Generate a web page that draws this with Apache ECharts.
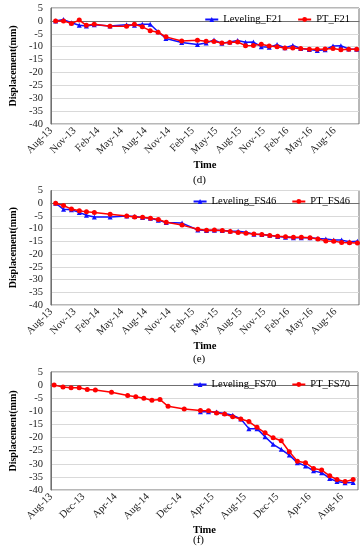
<!DOCTYPE html>
<html><head><meta charset="utf-8">
<script src="https://cdn.jsdelivr.net/npm/echarts@6/dist/echarts.min.js"></script>
<style>html,body{margin:0;padding:0;background:#fff}#c{width:363px;height:550px}</style>
</head><body><div id="c"></div>
<script>
// x positions: months since 1 Aug 2013
var monthsDE = [0.6,1.6,2.6,3.6,4.5,5.5,7.5,9.6,10.6,11.6,12.6,13.6,14.6,16.6,18.6,19.7,20.7,21.7,22.7,23.7,24.7,25.7,26.7,27.7,28.7,29.7,30.7,31.7,32.8,33.8,34.8,35.8,36.8,37.8,38.8];
var levelingF21 = [0,0.5,-0.7,-1.7,-2,-1.5,-2,-1.5,-1.7,-1.3,-1.3,-4.2,-6.8,-8.4,-9.2,-8.6,-7.4,-8.7,-8.2,-7.6,-8.3,-8.2,-10,-10.2,-9.2,-10.4,-9.5,-10.7,-11.1,-11.5,-11.2,-9.7,-9.6,-10.9,-11];
var ptF21 = [0,0,-1,0.3,-1.7,-1.3,-2.1,-2.1,-1.3,-2.3,-3.8,-4.4,-6.2,-7.8,-7.5,-7.9,-8,-8.6,-8.4,-8.2,-9.6,-9.5,-9.1,-9.7,-10,-10.5,-10.5,-10.7,-11,-11,-10.9,-10.7,-11.2,-11,-11];
var levelingFS46 = [0,-2.4,-2.6,-3.6,-4.7,-5.4,-5.4,-5,-5.2,-5.6,-5.9,-6.7,-7.6,-7.8,-10.5,-10.7,-10.6,-10.7,-10.9,-11,-11.4,-12.2,-12.3,-12.6,-13.1,-13.4,-13.6,-13.6,-13.6,-13.9,-14.1,-14.5,-14.5,-15.1,-14.9];
var ptFS46 = [0,-0.9,-2.3,-3,-3.4,-3.6,-4.3,-5,-5.4,-5.5,-5.9,-6.4,-7.5,-8.6,-10.2,-10.6,-10.5,-10.7,-11.1,-11.5,-11.8,-12.1,-12.3,-12.7,-13,-13.2,-13.4,-13.4,-13.6,-14.1,-14.8,-14.9,-15.4,-15.5,-15.6];
var monthsF = [0.4,1.5,2.5,3.5,4.5,5.5,7.5,9.5,10.5,11.5,12.5,13.5,14.5,16.5,18.5,19.5,20.5,21.5,22.5,23.5,24.5,25.5,26.5,27.5,28.5,29.5,30.5,31.5,32.5,33.5,34.5,35.4,36.4,37.4];
var levelingFS70 = [null,null,null,null,null,null,null,null,null,null,null,null,null,null,-10.2,-10.2,-10.3,-10.8,-11.5,-12.9,-16.6,-16.6,-19.7,-22.6,-24.5,-26.7,-29.6,-30.8,-32.7,-33.4,-35.6,-36.8,-37.2,-37.1];
var ptFS70 = [0,-0.7,-1,-1,-1.7,-1.9,-2.7,-4,-4.4,-5,-5.8,-5.5,-8.1,-9.1,-9.7,-9.8,-10.6,-11,-12.1,-12.9,-13.9,-16.1,-18.2,-20.1,-21.2,-25.4,-29,-29.6,-31.8,-32.4,-34.6,-36,-36.8,-36];
var ticksDE = ['Aug-13','Nov-13','Feb-14','May-14','Aug-14','Nov-14','Feb-15','May-15','Aug-15','Nov-15','Feb-16','May-16','Aug-16'];
var ticksF = ['Aug-13','Dec-13','Apr-14','Aug-14','Dec-14','Apr-15','Aug-15','Dec-15','Apr-16','Aug-16'];

var FONT = 'Liberation Serif';
var BLUE = '#1010ff', RED = '#ff0000';
function pairs(xs, ys){ return xs.map(function(x,i){ return ys[i]==null ? null : [x, ys[i]]; }).filter(function(p){return p;}); }

var panels = [
  {grid:{left:36,top:8,width:323,height:116}, xmax:39.1, interval:3, ticks:ticksDE, lev:pairs(monthsDE,levelingF21), pt:pairs(monthsDE,ptF21), names:['Leveling_F21','PT_F21'], legendTop:9, timeGap:35, cap:'(d)', capY:181},
  {grid:{left:37,top:190.5,width:322,height:114.5}, xmax:39, interval:3, ticks:ticksDE, lev:pairs(monthsDE,levelingFS46), pt:pairs(monthsDE,ptFS46), names:['Leveling_FS46','PT_FS46'], legendTop:191, timeGap:35, cap:'(e)', capY:360},
  {grid:{left:41,top:372,width:317,height:118}, xmax:38, interval:4, ticks:ticksF, lev:pairs(monthsF,levelingFS70), pt:pairs(monthsF,ptFS70), names:['Leveling_FS70','PT_FS70'], legendTop:374, timeGap:30, cap:'(f)', capY:541}
];

var option = {animation:false, textStyle:{fontFamily:FONT}, grid:[], xAxis:[], yAxis:[], series:[], legend:[], graphic:[]};
panels.forEach(function(p, k){
  option.grid.push(Object.assign({show:true, borderColor:'#707070', borderWidth:1, backgroundColor:'#fff'}, p.grid));
  option.xAxis.push({type:'value', gridIndex:k, min:0, max:p.xmax, interval:p.interval,
    name:'Time', nameLocation:'middle', nameGap:p.timeGap,
    nameTextStyle:{fontFamily:FONT, fontWeight:'bold', fontSize:10.5, color:'#000'},
    axisLine:{show:true, lineStyle:{color:'#707070'}}, axisTick:{show:false}, splitLine:{show:false},
    axisLabel:{rotate:45, fontFamily:FONT, fontSize:10.5, color:'#222', margin:5, showMaxLabel:false,
      formatter:(function(t, iv){ return function(v){ var i = Math.round(v/iv); return (Math.abs(v - i*iv) < 1e-6 && t[i]) ? t[i] : ''; }; })(p.ticks, p.interval)}
  });
  option.yAxis.push({type:'value', gridIndex:k, min:-40, max:5, interval:5,
    name:'Displacement(mm)', nameLocation:'middle', nameGap:24,
    nameTextStyle:{fontFamily:FONT, fontWeight:'bold', fontSize:10, color:'#000'},
    axisLine:{show:true, lineStyle:{color:'#707070'}}, axisTick:{show:false},
    splitLine:{show:true, lineStyle:{color:'#d9d9d9', width:1}},
    axisLabel:{fontFamily:FONT, fontSize:10.5, color:'#222', margin:8}
  });
  option.series.push({type:'line', name:p.names[0], xAxisIndex:k, yAxisIndex:k, data:p.lev,
    symbol:'triangle', symbolSize:5, lineStyle:{color:BLUE, width:1.5}, itemStyle:{color:BLUE}, z:2});
  option.series.push({type:'line', name:p.names[1], xAxisIndex:k, yAxisIndex:k, data:p.pt,
    symbol:'circle', symbolSize:5, lineStyle:{color:RED, width:1.5}, itemStyle:{color:RED}, z:3});
  option.legend.push({data:p.names, right:8, top:p.legendTop, itemWidth:13, itemHeight:6, itemGap:15,
    textStyle:{fontFamily:FONT, fontSize:10.5, color:'#000'}});
  option.graphic.push({type:'text', left:193, top:p.capY-6, style:{text:p.cap, font:'11px "Liberation Serif"', fill:'#000'}});
});
var chart = echarts.init(document.getElementById('c'), null, {renderer:'canvas'});
chart.setOption(option);
</script></body></html>
